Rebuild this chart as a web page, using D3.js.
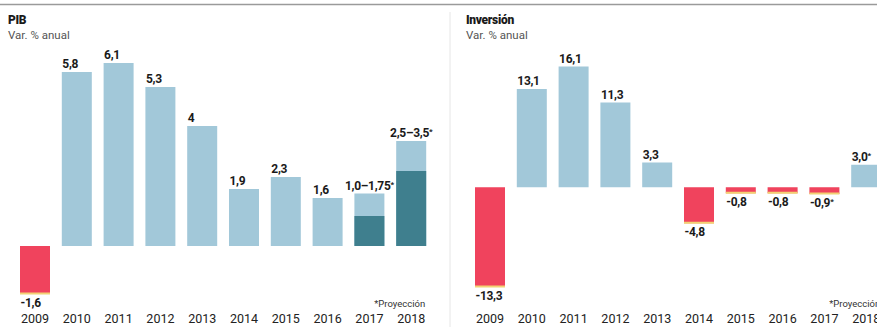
<!DOCTYPE html>
<html>
<head>
<meta charset="utf-8">
<script src="https://cdn.jsdelivr.net/npm/d3@7"></script>
<style>
  body { margin: 0; background: #fff; }
  svg { display: block; font-family: Roboto, "Noto Sans", sans-serif; }
</style>
</head>
<body>
<div id="chart"></div>
<script>
// Chart data
var years = ["2009", "2010", "2011", "2012", "2013", "2014", "2015", "2016", "2017", "2018"];

// PIB: base values, upper end of projected range (2017/2018)
var pibValues = [-1.6, 5.8, 6.1, 5.3, 4, 1.9, 2.3, 1.6, 1.0, 2.5];
var pibHigh = [null, null, null, null, null, null, null, null, 1.75, 3.5];
var pibLabels = ["-1,6", "5,8", "6,1", "5,3", "4", "1,9", "2,3", "1,6", "1,0–1,75*", "2,5–3,5*"];

// Inversión
var invValues = [-13.3, 13.1, 16.1, 11.3, 3.3, -4.8, -0.8, -0.8, -0.9, 3.0];
var invLabels = ["-13,3", "13,1", "16,1", "11,3", "3,3", "-4,8", "-0,8", "-0,8", "-0,9*", "3,0*"];

var svgWidth = 877;
var svgHeight = 327;

var lightBlue = "#a2c8d9";
var darkTeal = "#3f7f8e";
var red = "#f0435d";
var yellow = "#f2d274";

var svg = d3.select("#chart")
  .append("svg")
  .attr("width", svgWidth)
  .attr("height", svgHeight);

svg.append("rect")
  .attr("width", svgWidth)
  .attr("height", svgHeight)
  .attr("fill", "#fff");

// top rule and separator
svg.append("line")
  .attr("x1", 0).attr("x2", svgWidth)
  .attr("y1", 4.5).attr("y2", 4.5)
  .attr("stroke", "#9a9a9a")
  .attr("stroke-width", 1.5);

svg.append("line")
  .attr("x1", 450).attr("x2", 450)
  .attr("y1", 12).attr("y2", svgHeight)
  .attr("stroke", "#e6e6e6")
  .attr("stroke-width", 1);

function drawPanel(opts) {
  var g = svg.append("g");

  var x = d3.scaleBand()
    .domain(years)
    .range([opts.x0, opts.x0 + 9 * 41.8 + 30])
    .paddingInner(11.8 / 41.8)
    .paddingOuter(0);

  var y = d3.scaleLinear()
    .domain(opts.domain)
    .range(opts.range);

  // titles
  g.append("text")
    .attr("x", opts.titleX)
    .attr("y", 24)
    .attr("font-size", "12px")
    .attr("font-weight", 900)
    .attr("letter-spacing", "-0.3px")
    .attr("fill", "#1a1a1a")
    .text(opts.title);

  g.append("text")
    .attr("x", opts.titleX)
    .attr("y", 39)
    .attr("font-size", "11.5px")
    .attr("fill", "#555")
    .text("Var. % anual");

  var data = years.map(function(yr, i) {
    return { year: yr, value: opts.values[i], high: opts.high ? opts.high[i] : null, label: opts.labels[i] };
  });

  // light bars (range upper end, if any)
  g.selectAll(".hi")
    .data(data.filter(function(d) { return d.high !== null; }))
    .enter()
    .append("rect")
    .attr("x", function(d) { return x(d.year); })
    .attr("width", x.bandwidth())
    .attr("y", function(d) { return y(d.high); })
    .attr("height", function(d) { return y(0) - y(d.high); })
    .attr("fill", lightBlue);

  // main bars
  g.selectAll(".bar")
    .data(data)
    .enter()
    .append("rect")
    .attr("x", function(d) { return x(d.year); })
    .attr("width", x.bandwidth())
    .attr("y", function(d) { return y(Math.max(0, d.value)); })
    .attr("height", function(d) { return Math.abs(y(d.value) - y(0)); })
    .attr("fill", function(d) {
      if (d.value < 0) return red;
      return d.high !== null ? darkTeal : lightBlue;
    });

  // yellow edge under negative bars
  g.selectAll(".edge")
    .data(data.filter(function(d) { return d.value < 0; }))
    .enter()
    .append("rect")
    .attr("x", function(d) { return x(d.year); })
    .attr("width", x.bandwidth())
    .attr("y", function(d) { return y(d.value) - 1.5; })
    .attr("height", 2)
    .attr("fill", yellow);

  // value labels
  var labels = g.selectAll(".lbl")
    .data(data)
    .enter()
    .append("text")
    .attr("font-size", "12px")
    .attr("font-weight", 700)
    .attr("letter-spacing", "-0.3px")
    .attr("fill", "#1a1a1a")
    .attr("y", function(d) {
      if (d.value < 0) return y(d.value) + 13;
      var top = d.high !== null ? d.high : d.value;
      return y(top) - 4;
    });

  labels.each(function(d) {
    var t = d3.select(this);
    var parts = d.label.split("*");
    t.append("tspan").text(parts[0]);
    if (d.label.indexOf("*") >= 0) {
      t.append("tspan")
        .attr("font-size", "8px")
        .attr("dy", "-3")
        .text("*");
    }
    var w = this.getComputedTextLength();
    var cx = x(d.year) + x.bandwidth() / 2;
    t.attr("x", Math.min(x(d.year) + 0.5, cx - w / 2));
  });

  // year axis
  var axis = d3.axisBottom(x).tickSize(0).tickPadding(3);
  var ax = g.append("g")
    .attr("transform", "translate(0," + 311 + ")")
    .call(axis);
  ax.select(".domain").remove();
  ax.selectAll("text")
    .attr("font-family", "Roboto, 'Noto Sans', sans-serif")
    .attr("font-size", "12.5px")
    .attr("fill", "#222");

  // footnote
  g.append("text")
    .attr("x", x("2018") + x.bandwidth() - 1)
    .attr("y", 307)
    .attr("text-anchor", "end")
    .attr("font-size", "9.5px")
    .attr("fill", "#333")
    .text("*Proyección");
}

drawPanel({
  x0: 20,
  titleX: 8,
  title: "PIB",
  values: pibValues,
  high: pibHigh,
  labels: pibLabels,
  domain: [-1.6, 6.1],
  range: [294, 63]
});

drawPanel({
  x0: 475,
  titleX: 466,
  title: "Inversión",
  values: invValues,
  high: null,
  labels: invLabels,
  domain: [-13.3, 16.1],
  range: [287, 66.5]
});
</script>
</body>
</html>
